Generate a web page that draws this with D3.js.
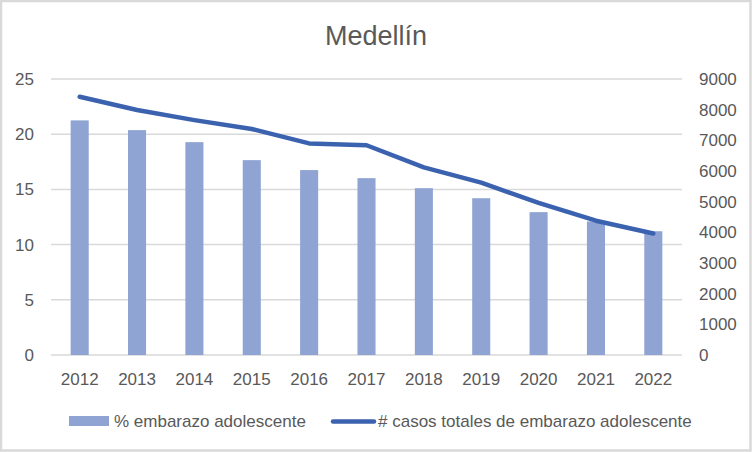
<!DOCTYPE html>
<html>
<head>
<meta charset="utf-8">
<script src="https://cdn.jsdelivr.net/npm/d3@7"></script>
<style>
  body { margin: 0; background: #fff; }
  svg text { font-family: "Liberation Sans", Arial, sans-serif; fill: #595959; }
</style>
</head>
<body>
<svg id="chart" width="752" height="452"></svg>
<script>
// data
const years = ['2012', '2013', '2014', '2015', '2016', '2017', '2018', '2019', '2020', '2021', '2022'];
const pctEmbarazo = [21.25, 20.37, 19.28, 17.65, 16.75, 16.02, 15.11, 14.2, 12.94, 12.1, 11.21];
const casosTotales = [8420, 7990, 7660, 7370, 6900, 6840, 6120, 5620, 4960, 4380, 3960];
const leftTicks = [0, 5, 10, 15, 20, 25];
const rightTicks = [0, 1000, 2000, 3000, 4000, 5000, 6000, 7000, 8000, 9000];

const barColor = '#8FA4D3';
const lineColor = '#3B62AE';
const gridColor = '#D9D9D9';

const svg = d3.select('#chart');
const width = 752, height = 452;
const margin = { top: 79, right: 70, bottom: 97, left: 51 };

// chart area border
svg.append('rect')
    .attr('x', 1).attr('y', 1)
    .attr('width', width - 2.5).attr('height', height - 2.5)
    .attr('fill', '#fff')
    .attr('stroke', gridColor)
    .attr('stroke-width', 2.5);

const x = d3.scaleBand()
    .domain(years)
    .range([margin.left, width - margin.right])
    .paddingInner(0.685)
    .paddingOuter(0.3425);

const yLeft = d3.scaleLinear().domain([0, 25]).range([height - margin.bottom, margin.top]);
const yRight = d3.scaleLinear().domain([0, 9000]).range([height - margin.bottom, margin.top]);

// gridlines
svg.append('g')
    .selectAll('line')
    .data(leftTicks)
    .enter().append('line')
        .attr('x1', margin.left)
        .attr('x2', width - margin.right)
        .attr('y1', d => yLeft(d))
        .attr('y2', d => yLeft(d))
        .attr('stroke', gridColor)
        .attr('stroke-width', 1.5);

// left axis
const axisL = svg.append('g')
    .attr('transform', 'translate(' + (margin.left - 17) + ',0)')
    .call(d3.axisLeft(yLeft).tickValues(leftTicks).tickSize(0).tickPadding(0));
axisL.select('.domain').remove();
axisL.selectAll('text').style('font-size', '17px').attr('fill', '#595959');

// right axis
const axisR = svg.append('g')
    .attr('transform', 'translate(' + (width - margin.right + 17) + ',0)')
    .call(d3.axisRight(yRight).tickValues(rightTicks).tickFormat(d3.format('d')).tickSize(0).tickPadding(0));
axisR.select('.domain').remove();
axisR.selectAll('text').style('font-size', '17px').attr('fill', '#595959');

// bottom axis labels
const axisB = svg.append('g')
    .attr('transform', 'translate(0,' + (height - margin.bottom + 18) + ')')
    .call(d3.axisBottom(x).tickSize(0).tickPadding(0));
axisB.select('.domain').remove();
axisB.selectAll('text').style('font-size', '17px').attr('fill', '#595959');

// bars
svg.append('g')
    .selectAll('rect')
    .data(pctEmbarazo)
    .enter().append('rect')
        .attr('x', (d, i) => x(years[i]))
        .attr('width', x.bandwidth())
        .attr('y', d => yLeft(d))
        .attr('height', d => yLeft(0) - yLeft(d))
        .attr('fill', barColor);

// line
const line = d3.line()
    .x((d, i) => x(years[i]) + x.bandwidth() / 2)
    .y(d => yRight(d));

svg.append('path')
    .datum(casosTotales)
    .attr('d', line)
    .attr('fill', 'none')
    .attr('stroke', lineColor)
    .attr('stroke-width', 4.5)
    .attr('stroke-linecap', 'round')
    .attr('stroke-linejoin', 'round');

// title
svg.append('text')
    .attr('x', 376)
    .attr('y', 45)
    .attr('text-anchor', 'middle')
    .style('font-size', '27px')
    .text('Medellín');

// legend
const legend = svg.append('g');
legend.append('rect')
    .attr('x', 69).attr('y', 416)
    .attr('width', 40).attr('height', 10)
    .attr('fill', barColor);
legend.append('text')
    .attr('x', 114).attr('y', 427)
    .style('font-size', '17px')
    .text('% embarazo adolescente');
legend.append('line')
    .attr('x1', 333).attr('x2', 374)
    .attr('y1', 421.5).attr('y2', 421.5)
    .attr('stroke', lineColor)
    .attr('stroke-width', 4.5)
    .attr('stroke-linecap', 'round');
legend.append('text')
    .attr('x', 378).attr('y', 427)
    .style('font-size', '17px')
    .text('# casos totales de embarazo adolescente');
</script>
</body>
</html>
